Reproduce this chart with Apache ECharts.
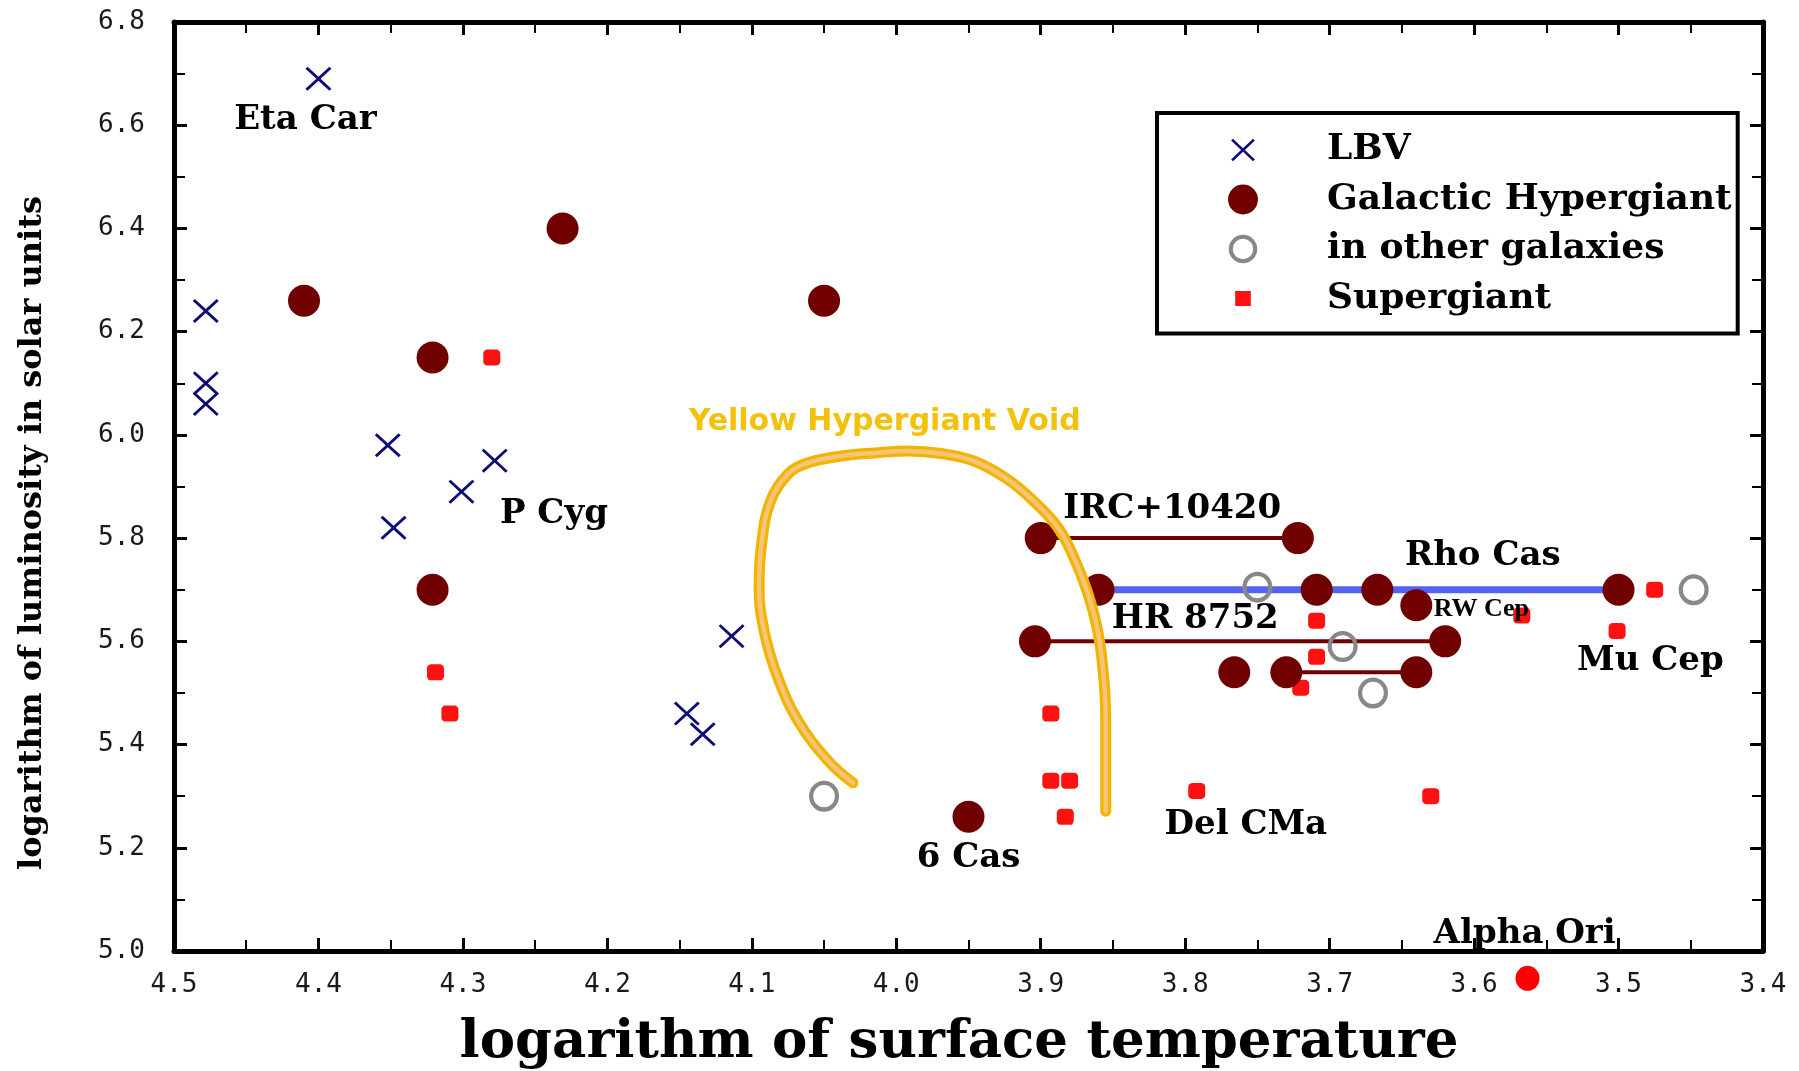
<!DOCTYPE html>
<html>
<head>
<meta charset="utf-8">
<title>Hypergiants in the HR diagram</title>
<script src="https://cdn.jsdelivr.net/npm/echarts@6/dist/echarts.min.js"></script>
<style>
  html, body { margin: 0; padding: 0; background: #fff; }
  #chart { width: 1799px; height: 1071px; }
</style>
</head>
<body>
<div id="chart"></div>
<script>
// Each star: [log surface temperature, log luminosity in solar units]
const lbvStars = [
  [4.400, 6.69], [4.478, 6.24], [4.478, 6.10], [4.478, 6.06],
  [4.352, 5.98], [4.278, 5.95], [4.301, 5.89], [4.348, 5.82],
  [4.114, 5.61], [4.145, 5.46], [4.134, 5.42]
];
const galacticHypergiants = [
  [4.410, 6.26], [4.231, 6.40], [4.321, 6.15], [4.050, 6.26], [4.321, 5.70],
  [3.950, 5.26], [3.900, 5.80], [3.722, 5.80], [3.860, 5.70], [3.709, 5.70],
  [3.667, 5.70], [3.640, 5.67], [3.500, 5.70], [3.904, 5.60], [3.620, 5.60],
  [3.766, 5.54], [3.730, 5.54], [3.640, 5.54]
];
const otherGalaxyHypergiants = [
  [4.050, 5.30], [3.750, 5.705], [3.691, 5.59], [3.670, 5.50], [3.448, 5.70]
];
const supergiants = [
  [4.280, 6.15], [4.319, 5.54], [4.309, 5.46], [3.893, 5.46], [3.893, 5.33],
  [3.880, 5.33], [3.883, 5.26], [3.792, 5.31], [3.630, 5.30], [3.709, 5.64],
  [3.709, 5.57], [3.720, 5.51], [3.567, 5.65], [3.501, 5.62], [3.475, 5.70]
];
const alphaOri = [3.563, 4.947];

// Excursions of individual hypergiants across the diagram
const ircTrack = [[3.900, 5.80], [3.722, 5.80]];
const rhoCasTrack = [[3.860, 5.70], [3.500, 5.70]];
const hr8752Track = [[3.904, 5.60], [3.620, 5.60]];
const pairTrack = [[3.730, 5.54], [3.640, 5.54]];

// Boundary of the yellow hypergiant void
const voidBoundary = [
  [4.030, 5.326], [4.047, 5.368], [4.068, 5.446], [4.082, 5.530], [4.091, 5.614],
  [4.095, 5.704], [4.093, 5.794], [4.087, 5.872], [4.075, 5.924], [4.061, 5.946],
  [4.038, 5.959], [4.015, 5.965], [3.992, 5.969], [3.969, 5.964], [3.946, 5.949],
  [3.923, 5.914], [3.905, 5.872], [3.888, 5.820], [3.877, 5.762], [3.868, 5.698],
  [3.861, 5.626], [3.857, 5.549], [3.855, 5.452], [3.855, 5.355], [3.855, 5.271]
];

// Star names and where they sit on the diagram
const starNames = ['Eta Car', 'P Cyg', 'IRC+10420', 'Rho Cas', 'RW Cep', 'HR 8752', 'Mu Cep', '6 Cas', 'Del CMa', 'Alpha Ori'];
const starNameAnchors = [
  [4.409, 6.610], [4.237, 5.847], [3.809, 5.856], [3.594, 5.765], [3.595, 5.663],
  [3.793, 5.643], [3.478, 5.562], [3.950, 5.180], [3.758, 5.244], [3.565, 5.033]
];
const voidTitle = 'Yellow Hypergiant Void';
const voidTitleAnchor = [4.008, 6.025];

const legendNames = ['LBV', 'Galactic Hypergiant', 'in other galaxies', 'Supergiant'];
const xTitle = 'logarithm of surface temperature';
const yTitle = 'logarithm of luminosity in solar units';

const X_MIN = 3.4, X_MAX = 4.5, X_STEP = 0.1;
const Y_MIN = 5.0, Y_MAX = 6.8, Y_STEP = 0.2;

// ---- marker shapes (SVG path data in a 100x100 box) ----
function crossShape(x0, y0, w, h, d) {
  const p = [[0, d], [d, 0], [50, 50 - d], [100 - d, 0], [100, d], [50 + d, 50],
             [100, 100 - d], [100 - d, 100], [50, 50 + d], [d, 100], [0, 100 - d], [50 - d, 50]];
  return 'M' + p.map(([u, v]) => (x0 + u * w / 100).toFixed(2) + ',' + (y0 + v * h / 100).toFixed(2)).join('L') + 'Z';
}
function discShape(cx, cy, r) {
  return `M${cx},${cy - r}A${r},${r} 0 1,1 ${cx},${cy + r}A${r},${r} 0 1,1 ${cx},${cy - r}Z`;
}
function ringShape(cx, cy, r, t) {
  const ri = r - t;
  return discShape(cx, cy, r) +
    `M${cx},${cy - ri}A${ri},${ri} 0 1,0 ${cx},${cy + ri}A${ri},${ri} 0 1,0 ${cx},${cy - ri}Z`;
}
// invisible corner specks pin the legend icon box to 100x100 so each icon keeps its own size
const SPECKS = 'M0,0L0.01,0L0,0.01ZM100,100L99.99,100L100,99.99Z';

const crossSymbol = 'path://' + crossShape(0, 0, 100, 100, 8);
const ringSymbol = 'path://' + ringShape(50, 50, 50, 14);

const legendIcons = [
  'path://' + SPECKS + crossShape(15, 17, 70, 66, 8),
  'path://' + SPECKS + discShape(50, 50, 44),
  'path://' + SPECKS + ringShape(50, 50, 42, 12),
  'path://' + SPECKS + 'M27,28L73,28L73,72L27,72Z'
];

function xAxisCfg(position, showLabels) {
  return {
    type: 'value', position: position, inverse: true,
    min: X_MIN, max: X_MAX, interval: X_STEP,
    axisLine: { show: true, onZero: false, lineStyle: { color: '#000', width: 5 } },
    axisTick: { show: true, inside: true, length: 13, lineStyle: { color: '#000', width: 3 } },
    minorTick: { show: true, splitNumber: 2, length: 11, lineStyle: { color: '#000', width: 2 } },
    axisLabel: {
      show: showLabels, margin: 21, showMinLabel: true, showMaxLabel: true,
      formatter: v => v.toFixed(1),
      fontFamily: 'DejaVu Sans Mono', fontSize: 26, color: '#1a1a1a'
    },
    splitLine: { show: false }, minorSplitLine: { show: false }
  };
}
function yAxisCfg(position, showLabels) {
  return {
    type: 'value', position: position,
    min: Y_MIN, max: Y_MAX, interval: Y_STEP,
    axisLine: { show: true, onZero: false, lineStyle: { color: '#000', width: 5 } },
    axisTick: { show: true, inside: true, length: 13, lineStyle: { color: '#000', width: 3 } },
    minorTick: { show: true, splitNumber: 2, length: 11, lineStyle: { color: '#000', width: 2 } },
    axisLabel: {
      show: showLabels, margin: 29, showMinLabel: true, showMaxLabel: true,
      formatter: v => v.toFixed(1),
      fontFamily: 'DejaVu Sans Mono', fontSize: 26, color: '#1a1a1a'
    },
    splitLine: { show: false }, minorSplitLine: { show: false }
  };
}

function trackSeries(name, data, color, width) {
  return {
    type: 'line', name: name, data: data, symbol: 'none', silent: true, z: 2,
    lineStyle: { color: color, width: width, cap: 'butt', opacity: 1 }
  };
}

const nameSizes = { 'RW Cep': 26 };

const chart = echarts.init(document.getElementById('chart'), null, { renderer: 'canvas' });
chart.setOption({
  animation: false,
  backgroundColor: '#fff',
  textStyle: { fontFamily: 'DejaVu Serif' },
  grid: { left: 174, right: 36, top: 22, bottom: 120, containLabel: false },
  xAxis: [xAxisCfg('bottom', true), xAxisCfg('top', false)],
  yAxis: [yAxisCfg('left', true), yAxisCfg('right', false)],
  legend: {
    orient: 'vertical', left: 1157, top: 113,
    padding: [19, 6, 17, 69],
    itemWidth: 34, itemHeight: 34, itemGap: 13.5,
    borderColor: '#000', borderWidth: 4, backgroundColor: '#fff',
    selectedMode: false,
    itemStyle: { borderWidth: 0, opacity: 1 },
    textStyle: { fontFamily: 'DejaVu Serif', fontWeight: 'bold', fontSize: 36, color: '#000',
                 padding: [0, 0, 0, 62] },
    data: legendNames.map((n, i) => ({ name: n, icon: legendIcons[i] }))
  },
  graphic: [
    {
      type: 'text', x: 959, y: 1043, silent: true,
      style: { text: xTitle, fontFamily: 'DejaVu Serif', fontWeight: 'bold', fontSize: 53,
               fill: '#000', align: 'center', verticalAlign: 'middle' }
    },
    {
      type: 'text', x: 33, y: 533, rotation: Math.PI / 2, silent: true,
      style: { text: yTitle, fontFamily: 'DejaVu Serif', fontWeight: 'bold', fontSize: 32,
               fill: '#000', align: 'center', verticalAlign: 'middle' }
    }
  ],
  series: [
    trackSeries('IRC+10420 track', ircTrack, '#700000', 4),
    trackSeries('HR 8752 track', hr8752Track, '#700000', 4),
    trackSeries('pair track', pairTrack, '#700000', 4),
    trackSeries('Rho Cas track', rhoCasTrack, '#5364ee', 7),
    {
      type: 'scatter', name: legendNames[3], z: 3,
      symbol: 'roundRect', symbolSize: [17, 16],
      itemStyle: { color: '#ff1111', opacity: 1 },
      clip: false,
      data: supergiants.concat([{ value: alphaOri, symbol: 'circle', symbolSize: [24, 25],
                                  itemStyle: { color: '#ff0000', opacity: 1 } }])
    },
    {
      type: 'scatter', name: legendNames[2], z: 4,
      symbol: ringSymbol, symbolSize: [30, 31],
      itemStyle: { color: '#888888', opacity: 1 },
      data: otherGalaxyHypergiants
    },
    {
      type: 'scatter', name: legendNames[1], z: 5,
      symbol: 'circle', symbolSize: [32, 32],
      itemStyle: { color: '#700000', opacity: 1 },
      data: galacticHypergiants
    },
    {
      type: 'scatter', name: legendNames[0], z: 6,
      symbol: crossSymbol, symbolSize: [26, 24],
      itemStyle: { color: '#0c0c78', opacity: 1 },
      data: lbvStars
    },
    {
      type: 'line', name: 'void edge', data: voidBoundary, symbol: 'none', smooth: 0.4,
      silent: true, z: 7, lineStyle: { color: '#f1b400', width: 11, cap: 'round', opacity: 1 }
    },
    {
      type: 'line', name: 'void core', data: voidBoundary, symbol: 'none', smooth: 0.4,
      silent: true, z: 8, lineStyle: { color: '#f7c478', width: 4.5, cap: 'round', opacity: 1 }
    },
    {
      type: 'scatter', name: 'star names', z: 10, silent: true, clip: false,
      symbolSize: 1, itemStyle: { color: 'rgba(0,0,0,0)', opacity: 1 },
      label: {
        show: true, position: 'inside', formatter: '{b}',
        color: '#000', fontFamily: 'DejaVu Serif', fontWeight: 'bold', fontSize: 34
      },
      data: starNames.map((n, i) => {
        const item = { name: n, value: starNameAnchors[i] };
        if (nameSizes[n]) item.label = { fontSize: nameSizes[n], fontFamily: 'Liberation Serif' };
        return item;
      }).concat([{
        name: voidTitle, value: voidTitleAnchor,
        label: { color: '#f3c00c', fontFamily: 'DejaVu Sans', fontWeight: 'bold', fontSize: 30 }
      }])
    }
  ]
});
</script>
</body>
</html>
